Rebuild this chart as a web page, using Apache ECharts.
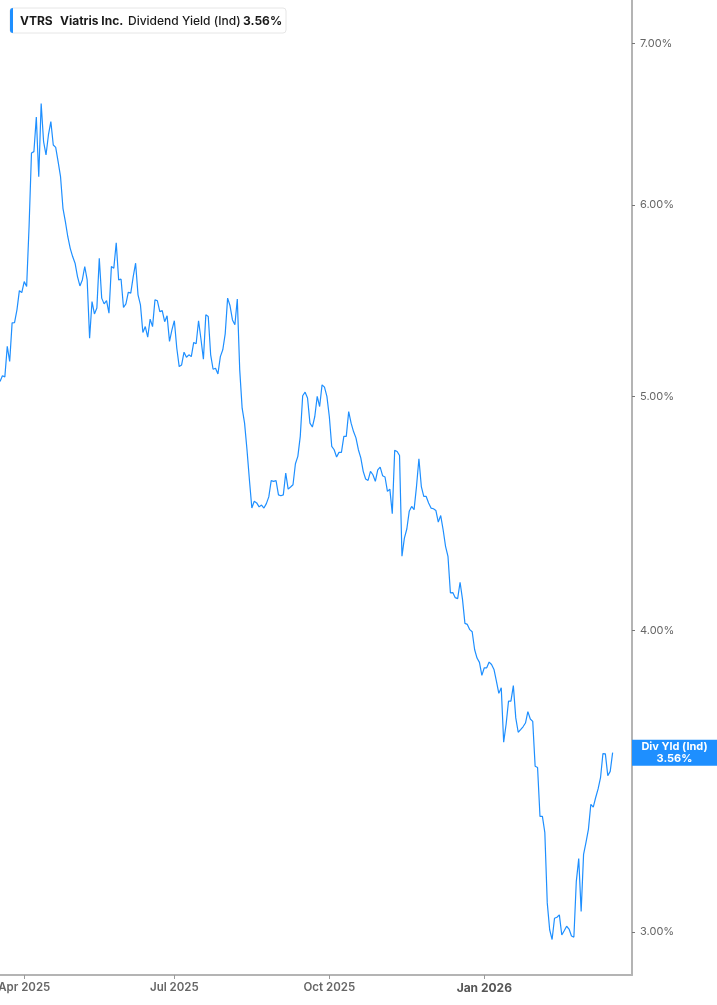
<!DOCTYPE html>
<html>
<head>
<meta charset="utf-8">
<script src="https://cdn.jsdelivr.net/npm/echarts@6/dist/echarts.min.js"></script>
<style>
html,body{margin:0;padding:0;background:#fff;}
#chart{width:717px;height:1005px;}
</style>
</head>
<body>
<div id="chart"></div>
<script>
// ---- data ----
const ticker = 'VTRS';
const company = 'Viatris Inc.';
const metric = 'Dividend Yield (Ind)';
const shortMetric = 'Div Yld (Ind)';
const firstDate = '2025-03-18';
const totalSlots = 262; // trading-day slots shown on the axis
const holidays = ['2025-04-18','2025-05-26','2025-06-19','2025-07-04','2025-09-01','2025-11-27','2025-12-25','2026-01-01','2026-01-19','2026-02-16','2026-04-03'];
const yTickValues = [3, 4, 5, 6, 7];
const quarterMonths = ['01','04','07','10'];
const monthNames = ['Jan','Feb','Mar','Apr','May','Jun','Jul','Aug','Sep','Oct','Nov','Dec'];
const yieldValues = [
5.071,5.099,5.094,5.244,5.169,5.363,5.364,5.430,5.530,5.520,
5.578,5.552,5.878,6.306,6.314,6.525,6.165,6.611,6.374,6.294,
6.415,6.497,6.354,6.340,6.254,6.165,5.982,5.906,5.822,5.758,
5.713,5.677,5.605,5.555,5.587,5.659,5.587,5.285,5.473,5.409,
5.439,5.704,5.491,5.461,5.478,5.413,5.659,5.650,5.789,5.587,
5.591,5.442,5.461,5.522,5.517,5.603,5.677,5.508,5.456,5.314,
5.344,5.290,5.382,5.344,5.482,5.477,5.421,5.426,5.369,5.399,
5.269,5.327,5.374,5.236,5.144,5.152,5.215,5.190,5.202,5.193,
5.264,5.257,5.374,5.280,5.180,5.404,5.396,5.202,5.131,5.136,
5.108,5.193,5.227,5.307,5.491,5.451,5.378,5.353,5.486,5.128,
4.944,4.874,4.752,4.618,4.495,4.524,4.517,4.500,4.508,4.495,
4.514,4.543,4.614,4.611,4.614,4.552,4.548,4.552,4.647,4.577,
4.586,4.596,4.689,4.722,4.813,5.003,5.020,4.992,4.874,4.856,
4.905,5.000,4.952,5.055,5.044,5.000,4.905,4.767,4.752,4.719,
4.740,4.740,4.813,4.813,4.928,4.874,4.835,4.806,4.752,4.715,
4.655,4.621,4.615,4.655,4.640,4.611,4.662,4.674,4.636,4.630,
4.567,4.577,4.471,4.749,4.744,4.726,4.293,4.368,4.406,4.481,
4.502,4.488,4.588,4.711,4.588,4.545,4.545,4.517,4.495,4.492,
4.485,4.435,4.463,4.403,4.334,4.293,4.146,4.147,4.127,4.123,
4.188,4.120,4.027,4.023,4.003,3.995,3.928,3.896,3.880,3.832,
3.860,3.860,3.881,3.872,3.854,3.811,3.767,3.787,3.596,3.657,
3.739,3.739,3.795,3.680,3.630,3.639,3.649,3.662,3.702,3.676,
3.668,3.514,3.510,3.350,3.350,3.299,3.085,3.007,2.979,3.040,
3.043,3.050,2.992,3.004,3.017,3.009,2.989,2.986,3.149,3.218,
3.060,3.231,3.268,3.309,3.389,3.380,3.411,3.439,3.476,3.557,
3.556,3.483,3.497,3.560
];
const yMin = 2.880, yMax = 7.296;

// ---- build trading-day categories ----
function buildDates(start, n, hol) {
  const out = [];
  const d = new Date(start + 'T00:00:00Z');
  while (out.length < n) {
    const s = d.toISOString().slice(0, 10);
    const wd = d.getUTCDay();
    if (wd !== 0 && wd !== 6 && hol.indexOf(s) < 0) out.push(s);
    d.setUTCDate(d.getUTCDate() + 1);
  }
  return out;
}
const dates = buildDates(firstDate, totalSlots, holidays);

function isQuarterStart(idx) {
  if (idx <= 0 || idx >= yieldValues.length) return false;
  const m = dates[idx].slice(5, 7);
  return quarterMonths.indexOf(m) >= 0 && dates[idx - 1].slice(5, 7) !== m;
}

const blue = '#1e8fff';
const lastVal = yieldValues[yieldValues.length - 1];

const chart = echarts.init(document.getElementById('chart'), null, {renderer: 'canvas'});
const option = {
  animation: false,
  backgroundColor: '#fff',
  textStyle: {fontFamily: 'Inter, "Noto Sans", sans-serif'},
  grid: {left: 0, right: 85, top: 0, bottom: 30, containLabel: false, outerBoundsMode: 'none'},
  xAxis: {
    type: 'category',
    data: dates,
    boundaryGap: false,
    axisLine: {show: true, lineStyle: {color: '#b4b4b4', width: 2}},
    axisTick: {show: true, length: 4, lineStyle: {color: '#9a9a9a', width: 1},
      interval: function (idx) { return isQuarterStart(idx); }},
    axisLabel: {
      interval: function (idx) { return isQuarterStart(idx); },
      margin: 7,
      formatter: function (value) {
        const m = parseInt(value.slice(5, 7), 10) - 1;
        const txt = monthNames[m] + ' ' + value.slice(0, 4);
        return m === 0 ? '{b|' + txt + '}' : '{a|' + txt + '}';
      },
      rich: {
        a: {fontSize: 11.5, fontWeight: 600, color: '#666', fontFamily: 'Inter'},
        b: {fontSize: 12, fontWeight: 700, color: '#555', fontFamily: 'Inter'}
      }
    },
    splitLine: {show: false}
  },
  yAxis: {
    type: 'value',
    position: 'right',
    min: Math.log(yMin),
    max: Math.log(yMax),
    axisLine: {show: true, lineStyle: {color: '#b4b4b4', width: 2}},
    axisTick: {show: true, length: 3, customValues: yTickValues.map(Math.log), lineStyle: {color: '#777'}},
    axisLabel: {
      customValues: yTickValues.map(Math.log),
      margin: 8,
      fontSize: 11,
      color: '#666',
      fontFamily: 'Inter',
      formatter: function (v) { return Math.exp(v).toFixed(2) + '%'; }
    },
    splitLine: {show: false}
  },
  series: [{
    type: 'line',
    data: yieldValues.map(function (v) { return Math.log(v); }),
    showSymbol: false,
    symbol: 'none',
    lineStyle: {color: blue, width: 1.2},
    silent: true
  }],
  graphic: [
    {id: 'hdrBox', type: 'rect', shape: {x: 10, y: 8, width: 276, height: 25, r: 3},
     style: {fill: '#fff', stroke: '#e6e6e6', lineWidth: 1}, z: 10},
    {id: 'hdrBar', type: 'rect', shape: {x: 10, y: 8, width: 3, height: 25, r: [3, 0, 0, 3]},
     style: {fill: blue}, z: 11},
    {id: 't1', type: 'text', x: 20, y: 21, z: 12,
     style: {text: ticker, font: '700 12px Inter', fill: '#1a1a1a', verticalAlign: 'middle'}},
    {id: 't2', type: 'text', x: 60, y: 21, z: 12,
     style: {text: company, font: '700 12px Inter', fill: '#1a1a1a', verticalAlign: 'middle'}},
    {id: 't3', type: 'text', x: 128, y: 21, z: 12,
     style: {text: metric, font: '500 12px Inter', fill: '#1a1a1a', verticalAlign: 'middle'}},
    {id: 't4', type: 'text', x: 243, y: 21, z: 12,
     style: {text: lastVal.toFixed(2) + '%', font: '700 12px Inter', fill: '#1a1a1a', verticalAlign: 'middle'}}
  ]
};
chart.setOption(option);

const yPix = chart.convertToPixel({yAxisIndex: 0}, Math.log(lastVal));
const xAxisEnd = 717 - 85;
chart.setOption({
  graphic: [
    {id: 'valBox', type: 'rect', shape: {x: xAxisEnd, y: yPix - 13, width: 717 - xAxisEnd, height: 26},
     style: {fill: blue}, z: 20},
    {id: 'valT1', type: 'text', x: xAxisEnd + (717 - xAxisEnd) / 2, y: yPix - 6, z: 21,
     style: {text: shortMetric, font: '700 11px Inter', fill: '#fff', align: 'center', verticalAlign: 'middle'}},
    {id: 'valT2', type: 'text', x: xAxisEnd + (717 - xAxisEnd) / 2, y: yPix + 6, z: 21,
     style: {text: lastVal.toFixed(2) + '%', font: '700 11px Inter', fill: '#fff', align: 'center', verticalAlign: 'middle'}}
  ]
});
</script>
</body>
</html>
